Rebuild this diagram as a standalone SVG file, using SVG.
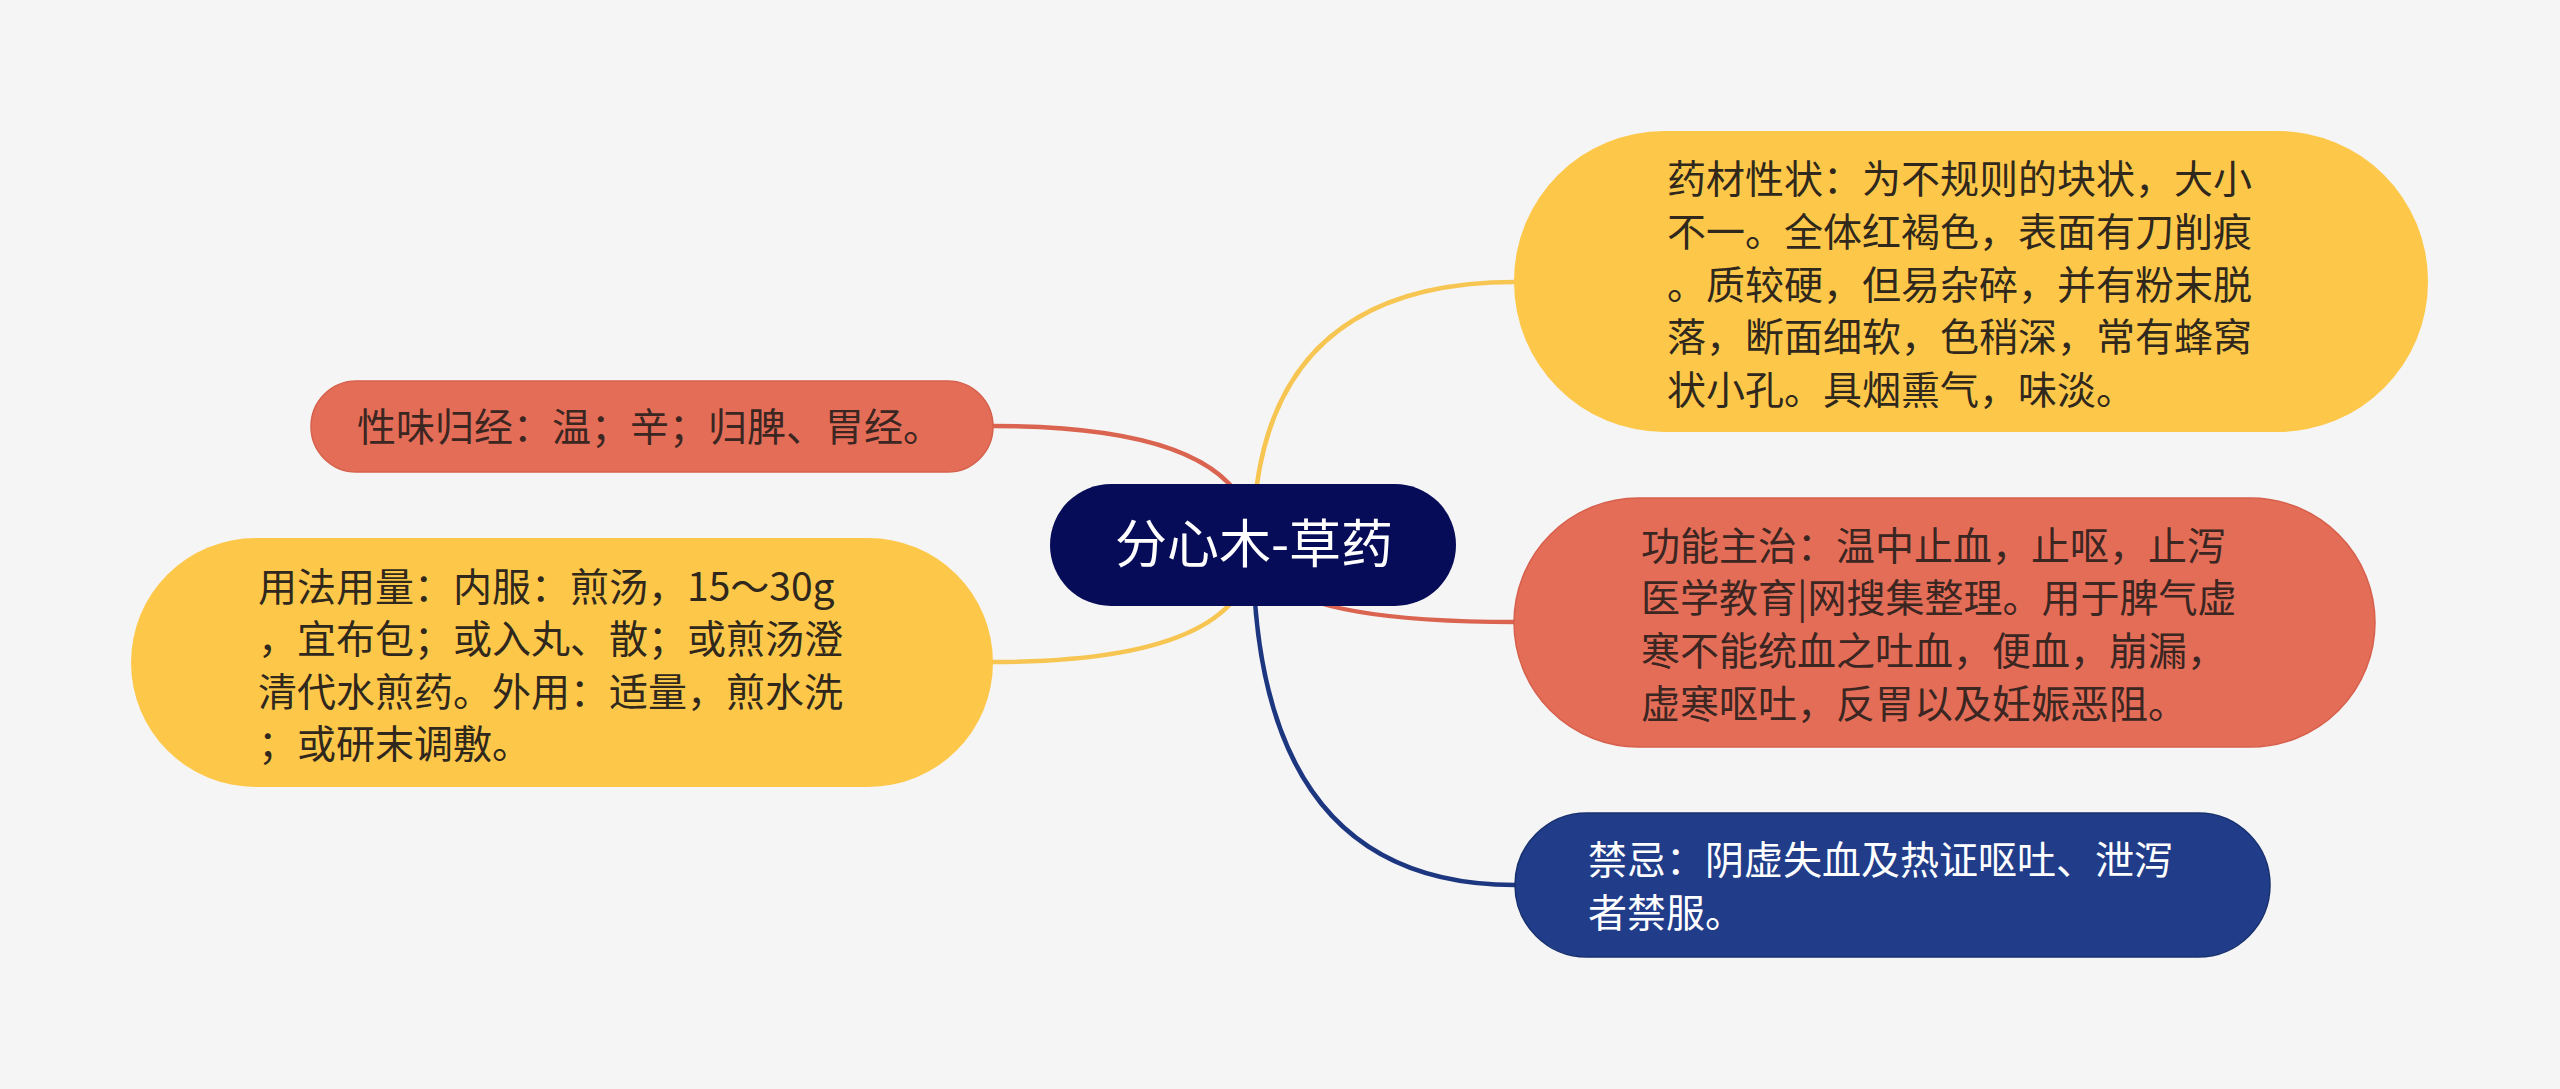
<svg xmlns="http://www.w3.org/2000/svg" width="2560" height="1089" viewBox="0 0 2560 1089">
<style>
.t{font-family:"Noto Sans CJK SC","Noto Sans",sans-serif;font-size:39px;}
.dk{fill:#30281c;}
.dr{fill:#3b2622;}
.wt{fill:#ffffff;}
.link{fill:none;stroke-width:4.5;stroke-linecap:round;}
.yl{fill:#fdc84a;}
.rd{fill:#e46d58;stroke:#d6604c;stroke-width:1.5;}
.bl{fill:#213d8a;stroke:#17306f;stroke-width:1.5;}
</style>
<rect x="0" y="0" width="2560" height="1089" fill="#f5f5f5"/>
<g id="connectors">
<path class="link" stroke="#f7c652" d="M1253,545 Q1253,282 1515,282"/>
<path class="link" stroke="#da6450" d="M1253,545 Q1253,426 993,426"/>
<path class="link" stroke="#f7c652" d="M1253,545 Q1253,662 993,662"/>
<path class="link" stroke="#da6450" d="M1253,545 Q1253,622 1515,622"/>
<path class="link" stroke="#1d3680" d="M1253,545 Q1253,885 1515,885"/>
</g>
<g id="center">
<rect x="1050" y="484" width="406" height="122" rx="61" fill="#070c58"/>
<text x="1254" y="563" text-anchor="middle" font-family="Noto Sans CJK SC, Noto Sans, sans-serif" font-size="52" fill="#ffffff">分心木-草药</text>
</g>
<g id="node-xingzhuang">
<rect class="yl" x="1514" y="131" width="914" height="301" rx="150"/>
<text class="t dk"><tspan x="1667" y="193">药材性状：为不规则的块状，大小</tspan><tspan x="1667" y="246">不一。全体红褐色，表面有刀削痕</tspan><tspan x="1667" y="299">。质较硬，但易杂碎，并有粉末脱</tspan><tspan x="1667" y="351">落，断面细软，色稍深，常有蜂窝</tspan><tspan x="1667" y="404">状小孔。具烟熏气，味淡。</tspan></text>
</g>
<g id="node-gongneng">
<rect class="rd" x="1514" y="498" width="861" height="249" rx="124.5"/>
<text class="t dr"><tspan x="1641" y="560">功能主治：温中止血，止呕，止泻</tspan><tspan x="1641" y="612">医学教育|网搜集整理。用于脾气虚</tspan><tspan x="1641" y="665">寒不能统血之吐血，便血，崩漏，</tspan><tspan x="1641" y="718">虚寒呕吐，反胃以及妊娠恶阻。</tspan></text>
</g>
<g id="node-jinji">
<rect class="bl" x="1515" y="813" width="755" height="144" rx="72"/>
<text class="t wt"><tspan x="1588" y="874">禁忌：阴虚失血及热证呕吐、泄泻</tspan><tspan x="1588" y="927">者禁服。</tspan></text>
</g>
<g id="node-xingwei">
<rect class="rd" x="311" y="381" width="682" height="91" rx="45.5"/>
<text class="t dr" x="357" y="441">性味归经：温；辛；归脾、胃经。</text>
</g>
<g id="node-yongfa">
<rect class="yl" x="131" y="538" width="862" height="249" rx="124.5"/>
<text class="t dk"><tspan x="258" y="601">用法用量：内服：煎汤，15～30g</tspan><tspan x="258" y="653">，宜布包；或入丸、散；或煎汤澄</tspan><tspan x="258" y="706">清代水煎药。外用：适量，煎水洗</tspan><tspan x="258" y="758">；或研末调敷。</tspan></text>
</g>
</svg>
